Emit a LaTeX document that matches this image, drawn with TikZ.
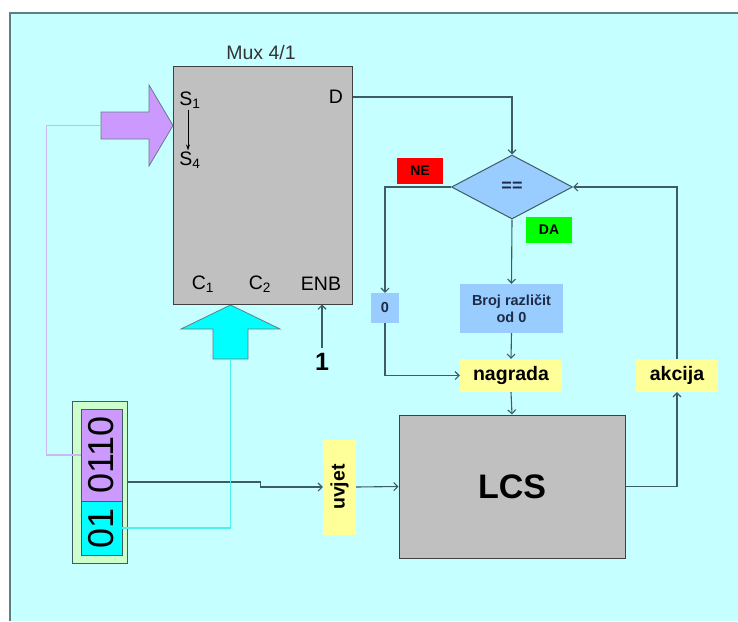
\documentclass[tikz,border=0pt]{standalone}
\usepackage{fontspec}
\setmainfont{Liberation Sans}
\usepackage{tikz}
\usetikzlibrary{positioning,calc,shapes.geometric,arrows.meta}
\definecolor{bgcyan}{HTML}{C6FFFF}
\definecolor{framegray}{HTML}{5E7F7F}
\definecolor{muxgray}{HTML}{C0C0C0}
\definecolor{linedark}{HTML}{3E5C66}
\definecolor{selpurple}{HTML}{CC99FF}
\definecolor{selline}{HTML}{C9B8F2}
\definecolor{ctrlcyan}{HTML}{00FFFF}
\definecolor{ctrlline}{HTML}{4DEFEF}
\definecolor{boxblue}{HTML}{99CCFF}
\definecolor{boxyellow}{HTML}{FFFF99}
\definecolor{regframe}{HTML}{CCFFCC}
\definecolor{txtnavy}{HTML}{1F2A44}

\begin{document}
\begin{tikzpicture}[x=1pt,y=-1pt,
  conn/.style={draw=linedark, line width=1.1pt, -{Straight Barb[length=4pt,width=8pt]}},
  graybox/.style={draw=black!75, line width=1pt, fill=muxgray, inner sep=0pt},
  portlbl/.style={font=\fontsize{19.5}{21}\selectfont, inner sep=1pt},
  tagbox/.style={inner sep=0pt, font=\fontsize{14}{16}\selectfont\bfseries},
  yelbox/.style={fill=boxyellow, inner sep=0pt, font=\fontsize{19.5}{21}\selectfont\bfseries},
  bluebox/.style={fill=boxblue, inner sep=0pt, text=txtnavy, font=\fontsize{14.5}{17}\selectfont\bfseries},
  regcell/.style={draw=linedark, line width=0.8pt, inner sep=0pt, minimum width=41pt, font=\fontsize{36}{38}\selectfont},
]
\useasboundingbox (0,0) rectangle (738,621);
% background panel
\fill[bgcyan] (10,13) rectangle (738,621);
\draw[framegray, line width=1.8pt] (10,621) -- (10,13) -- (738,13);

% multiplexer
\node[graybox, minimum width=179pt, minimum height=238pt] (mux) at (262.5,185) {};
\node[font=\fontsize{19.5}{21}\selectfont, text=black!80] (muxname) at (261,53) {Mux 4/1};
\foreach \nm/\x/\y/\t in {S1/190/100/S\textsubscript{1}, S4/190/160/S\textsubscript{4},
  D/336/97/D, C1/203/284/C\textsubscript{1}, C2/260/284/C\textsubscript{2}, ENB/321/284/ENB} {
  \node[portlbl] (\nm) at (\x,\y) {\t};
}
\draw[black, line width=0.8pt, -{Stealth[length=6pt,width=4pt]}] ([xshift=-2pt]S1.south) -- ([xshift=-2pt]S4.north);

% select and control arrows
\draw[draw=linedark!80, line width=0.8pt, fill=selpurple]
  (101,112) -- (149,112) -- (149,85) -- (173,125.5) -- (149,166) -- (149,139) -- (101,139) -- cycle;
\coordinate (selin) at (101,125.5);
\draw[draw=linedark!80, line width=0.8pt, fill=ctrlcyan]
  (213,359) -- (213,329) -- (181,329) -- (230.5,305) -- (280,329) -- (248,329) -- (248,359) -- cycle;
\coordinate (ctrlin) at (230.5,359);

% enable input
\node[font=\fontsize{25}{27}\selectfont\bfseries, inner sep=5pt] (one) at (322,362) {1};
\draw[conn] (one.north) -- (one.north |- mux.south);

% comparator branch
\node[diamond, draw=linedark, line width=1pt, fill=boxblue, minimum width=121pt, minimum height=64pt,
  inner sep=0pt, text=txtnavy, font=\fontsize{18}{20}\selectfont\bfseries] (eq) at (512,187) {==};
\node[tagbox, fill=red, minimum width=46pt, minimum height=26pt] (ne) at (420,171) {NE};
\node[tagbox, fill=green, minimum width=46pt, minimum height=26pt] (da) at (549,230) {DA};
\node[bluebox, minimum width=28pt, minimum height=30pt] (zero) at (385,308) {0};
\node[bluebox, minimum width=103pt, minimum height=49pt, align=center] (broj) at (511.5,308.5) {Broj različit\\od 0};
\node[yelbox, minimum width=102pt, minimum height=33pt] (nagrada) at (511,375.5) {nagrada};
\node[yelbox, minimum width=82pt, minimum height=33pt] (akcija) at (677,375.5) {akcija};

% classifier system
\node[graybox, minimum width=226pt, minimum height=143pt, font=\fontsize{34}{36}\selectfont\bfseries] (lcs) at (512,486.5) {LCS};
\node[yelbox, minimum width=33pt, minimum height=95pt] (uvjet) at (339.5,487) {\rotatebox{90}{uvjet}};

% register
\node[draw=linedark, line width=0.8pt, fill=regframe, minimum width=55pt, minimum height=162pt] (reg) at (99.5,482) {};
\node[regcell, fill=selpurple, minimum height=92pt] (regsel) at (101.5,455) {\rotatebox{90}{0110}};
\node[regcell, fill=ctrlcyan, minimum height=54pt] (regctrl) at (101.5,528) {\rotatebox{90}{01}};

% connections
\draw[conn] (D.east -| mux.east) -| (eq.north);
\draw[conn] (eq.west) -| (zero.north);
\draw[conn] (eq.south) -- (broj.north);
\draw[conn] (zero.south) |- (nagrada.west);
\draw[conn] (broj.south) -- (nagrada.north);
\draw[conn] (nagrada.south) -- (lcs.north);
\draw[conn] (lcs.east) -| (akcija.south);
\draw[conn] (akcija.north) |- (eq.east);
\draw[conn] (reg.east) -- ++(133,0) |- (uvjet.west);
\draw[conn] (uvjet.east) -- (lcs.west);
\draw[selline, line width=1.1pt] (regsel.west) -- ++(-34,0) |- (selin);
\draw[ctrlline, line width=1.1pt] (regctrl.east) -| (ctrlin);
\end{tikzpicture}
\end{document}
